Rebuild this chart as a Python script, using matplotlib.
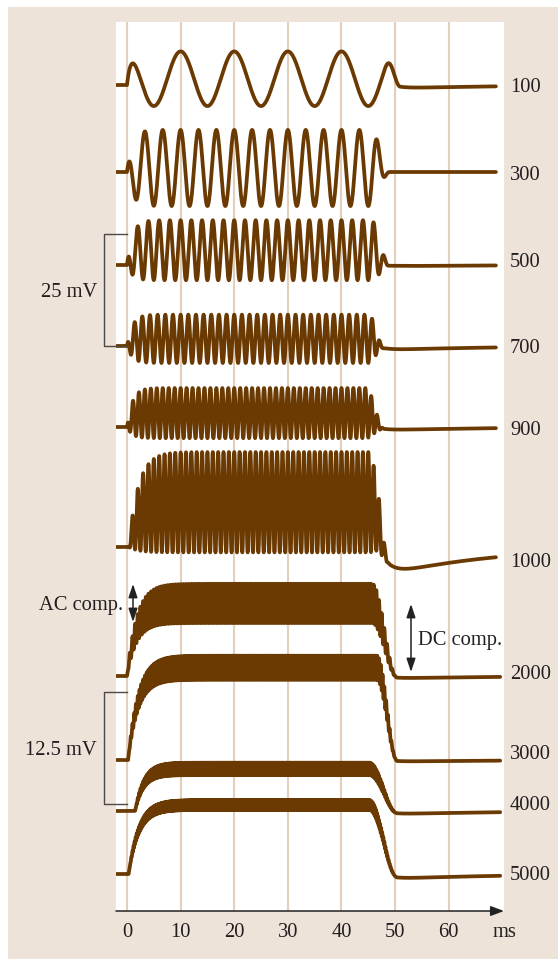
import numpy as np
import matplotlib.pyplot as plt
from matplotlib.patches import Rectangle

# stimulus frequency of each trace (Hz) and its label on the right
freqs = [100, 300, 500, 700, 900, 1000, 2000, 3000, 4000, 5000]
labels = ["100", "300", "500", "700", "900", "1000", "2000", "3000", "4000", "5000"]

# (mV): AC half amplitude, DC shift, undershoot after the tone
ac_mv = [6.1, 8.5, 6.7, 5.4, 5.6, 11.2, 2.2, 1.35, 0.7, 0.55]
dc_mv = [1.4, 0.9, 3.3, 1.6, 3.1, 10.0, 8.1, 10.3, 4.7, 7.7]
under_mv = [0.8, 0.0, 0.3, 1.0, 0.8, 6.8, 0.3, 0.2, 0.4, 0.6]

# timing (ms): onset, rise constant, start and length of decay
t_on = [0.0, 0.0, 0.0, 0.0, 0.0, 0.3, 0.0, 0.2, 1.5, 0.3]
rise_ms = [0.7, 1.0, 1.0, 1.0, 1.0, 1.8, 1.8, 1.9, 1.6, 1.9]
t_off = [48.0, 45.5, 45.5, 45.0, 44.5, 45.0, 45.7, 46.6, 45.2, 45.2]
fall_ms = [3.0, 3.5, 3.5, 3.0, 3.5, 4.0, 4.7, 3.8, 5.2, 5.2]

# scale bars
bar_text = ["25 mV", "12.5 mV"]
bar_mv = [25.0, 12.5]
group = [0, 0, 0, 0, 0, 0, 1, 1, 1, 1]

ticks = [0, 10, 20, 30, 40, 50, 60]

# ---- layout (pixels of the 558x962 picture) ----
W, H = 558, 962
X0, PX_MS = 127.0, 5.362
BAR_PX = 112.0
base_px = [86, 173, 266, 347, 428, 548, 677, 761, 812, 875]
label_px = [85, 173, 260, 346, 428, 560, 672, 752, 803, 873]
bar_top = [235, 693]

brown = "#6a3a02"
beige = "#ede3d8"
grid_c = "#e2d0bc"
ink = "#231f20"

plt.rcParams["font.family"] = ["Liberation Serif", "DejaVu Serif"]
FS = 14.8


def xms(px):
    return (px - X0) / PX_MS


def envelope(t, on, off, rise, fall):
    e = np.where(t < on, 0.0, 1 - np.exp(-np.clip(t - on, 0, None) / rise))
    x = np.clip((t - off) / fall, 0, 1)
    return e * 0.5 * (1 + np.cos(np.pi * x))


fig = plt.figure(figsize=(W / 100, H / 100), dpi=100)
fig.patch.set_facecolor("white")
fig.patches.append(Rectangle((8 / W, 1 - 960 / H), 550 / W, 952 / H,
                             transform=fig.transFigure, facecolor=beige,
                             edgecolor="none", zorder=-10))

ax = fig.add_axes([116 / W, 1 - 912 / H, (504 - 116) / W, (912 - 23) / H])
ax.set_facecolor("white")
ax.set_xlim(xms(116), xms(504))
ax.set_ylim(912, 23)
for s in ax.spines.values():
    s.set_visible(False)
ax.set_xticks([])
ax.set_yticks([])

# grid lines and tick labels
for g in ticks:
    ax.axvline(g, color=grid_c, lw=1.5, zorder=1)
    ax.text(g, 937, str(g), ha="center", va="baseline", fontsize=FS,
            color=ink, clip_on=False)
ax.text(xms(505), 937, "ms", ha="center", va="baseline", fontsize=FS,
        color=ink, clip_on=False)

# time axis with arrow
ax.annotate("", xy=(xms(504), 912), xytext=(xms(116), 912),
            arrowprops=dict(arrowstyle="-|>,head_length=0.8,head_width=0.3",
                            color="#222222", lw=1.1, mutation_scale=10,
                            shrinkA=0, shrinkB=0),
            annotation_clip=False)

# traces
for i, f in enumerate(freqs):
    t_end = 68.8 if group[i] == 0 else 69.6
    t = np.arange(xms(116), t_end, 0.005)
    env = envelope(t, t_on[i], t_off[i], rise_ms[i], fall_ms[i])
    dt = np.clip(t - t_off[i] - 0.5 * fall_ms[i], 0, None)
    u = (1 - np.exp(-dt / 2.0)) * np.exp(-dt / 20.0)
    sig = dc_mv[i] * env + ac_mv[i] * env * np.cos(2 * np.pi * f * t / 1000.0) \
        - under_mv[i] * u
    scale = BAR_PX / bar_mv[group[i]]
    ax.plot(t, base_px[i] - scale * sig, color=brown, lw=2.7, zorder=3,
            solid_joinstyle="round", solid_capstyle="round")
    ax.text(xms(510), label_px[i] + 6.7, labels[i], ha="left", va="baseline",
            fontsize=FS, color=ink, clip_on=False)

# scale bars
for k in range(2):
    y1 = bar_top[k]
    y2 = y1 + BAR_PX
    ax.plot([xms(127), xms(104), xms(104), xms(127)], [y1, y1, y2, y2],
            color="#4a4a4a", lw=1.0, clip_on=False, zorder=4)
    ax.text(xms(97), (y1 + y2) / 2 + 6.5, bar_text[k], ha="right",
            va="baseline", fontsize=FS, color=ink, clip_on=False)

# AC / DC component markers
arrow = dict(arrowstyle="<|-|>,head_length=0.9,head_width=0.3",
             color="#222222", lw=1.1, mutation_scale=9, shrinkA=0, shrinkB=0)
ax.annotate("", xy=(xms(133), 585), xytext=(xms(133), 623),
            arrowprops=arrow, annotation_clip=False)
ax.text(xms(123), 610, "AC comp.", ha="right", va="baseline", fontsize=FS,
        color=ink, clip_on=False)
ax.annotate("", xy=(xms(411), 605), xytext=(xms(411), 673),
            arrowprops=arrow, annotation_clip=False)
ax.text(xms(418), 645, "DC comp.", ha="left", va="baseline", fontsize=FS,
        color=ink, clip_on=False)

fig.savefig("out.png", dpi=100)
